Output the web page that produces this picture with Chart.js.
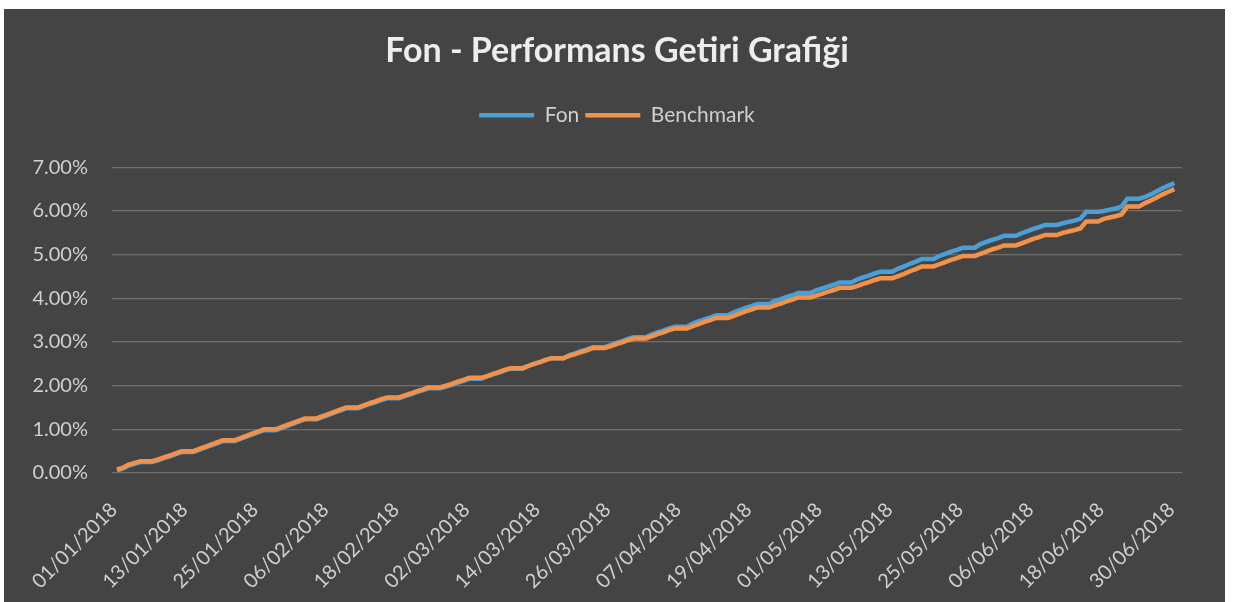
<!DOCTYPE html>
<html>
<head>
<meta charset="utf-8">
<script src="https://cdn.jsdelivr.net/npm/chart.js@4.4.1/dist/chart.umd.min.js"></script>
<style>
html,body{margin:0;padding:0;background:#ffffff;}
canvas{display:block;}
</style>
</head>
<body>
<canvas id="c" width="1234" height="602"></canvas>
<script>
const dates = [
'01/01/2018','02/01/2018','03/01/2018','04/01/2018','05/01/2018','06/01/2018','07/01/2018','08/01/2018','09/01/2018','10/01/2018','11/01/2018','12/01/2018','13/01/2018','14/01/2018','15/01/2018','16/01/2018','17/01/2018','18/01/2018','19/01/2018','20/01/2018','21/01/2018','22/01/2018','23/01/2018','24/01/2018','25/01/2018','26/01/2018','27/01/2018','28/01/2018','29/01/2018','30/01/2018','31/01/2018',
'01/02/2018','02/02/2018','03/02/2018','04/02/2018','05/02/2018','06/02/2018','07/02/2018','08/02/2018','09/02/2018','10/02/2018','11/02/2018','12/02/2018','13/02/2018','14/02/2018','15/02/2018','16/02/2018','17/02/2018','18/02/2018','19/02/2018','20/02/2018','21/02/2018','22/02/2018','23/02/2018','24/02/2018','25/02/2018','26/02/2018','27/02/2018','28/02/2018',
'01/03/2018','02/03/2018','03/03/2018','04/03/2018','05/03/2018','06/03/2018','07/03/2018','08/03/2018','09/03/2018','10/03/2018','11/03/2018','12/03/2018','13/03/2018','14/03/2018','15/03/2018','16/03/2018','17/03/2018','18/03/2018','19/03/2018','20/03/2018','21/03/2018','22/03/2018','23/03/2018','24/03/2018','25/03/2018','26/03/2018','27/03/2018','28/03/2018','29/03/2018','30/03/2018','31/03/2018',
'01/04/2018','02/04/2018','03/04/2018','04/04/2018','05/04/2018','06/04/2018','07/04/2018','08/04/2018','09/04/2018','10/04/2018','11/04/2018','12/04/2018','13/04/2018','14/04/2018','15/04/2018','16/04/2018','17/04/2018','18/04/2018','19/04/2018','20/04/2018','21/04/2018','22/04/2018','23/04/2018','24/04/2018','25/04/2018','26/04/2018','27/04/2018','28/04/2018','29/04/2018','30/04/2018',
'01/05/2018','02/05/2018','03/05/2018','04/05/2018','05/05/2018','06/05/2018','07/05/2018','08/05/2018','09/05/2018','10/05/2018','11/05/2018','12/05/2018','13/05/2018','14/05/2018','15/05/2018','16/05/2018','17/05/2018','18/05/2018','19/05/2018','20/05/2018','21/05/2018','22/05/2018','23/05/2018','24/05/2018','25/05/2018','26/05/2018','27/05/2018','28/05/2018','29/05/2018','30/05/2018','31/05/2018',
'01/06/2018','02/06/2018','03/06/2018','04/06/2018','05/06/2018','06/06/2018','07/06/2018','08/06/2018','09/06/2018','10/06/2018','11/06/2018','12/06/2018','13/06/2018','14/06/2018','15/06/2018','16/06/2018','17/06/2018','18/06/2018','19/06/2018','20/06/2018','21/06/2018','22/06/2018','23/06/2018','24/06/2018','25/06/2018','26/06/2018','27/06/2018','28/06/2018','29/06/2018','30/06/2018'
];

const tickLabels = ['01/01/2018','13/01/2018','25/01/2018','06/02/2018','18/02/2018','02/03/2018','14/03/2018','26/03/2018','07/04/2018','19/04/2018','01/05/2018','13/05/2018','25/05/2018','06/06/2018','18/06/2018','30/06/2018'];

const yTicks = [0, 1, 2, 3, 4, 5, 6, 7];

// Fon (%), one row per week (Mon..Sun)
const fon = [
0.06,0.10,0.17,0.21,0.25,0.25,0.25,
0.29,0.34,0.38,0.43,0.48,0.48,0.48,
0.53,0.58,0.63,0.68,0.73,0.73,0.73,
0.78,0.83,0.88,0.93,0.98,0.98,0.98,
1.03,1.08,1.13,1.18,1.23,1.23,1.23,
1.28,1.33,1.38,1.43,1.48,1.48,1.48,
1.53,1.58,1.62,1.67,1.71,1.71,1.71,
1.76,1.80,1.85,1.89,1.94,1.94,1.94,
1.98,2.02,2.07,2.11,2.16,2.16,2.16,
2.21,2.26,2.30,2.35,2.39,2.39,2.39,
2.45,2.50,2.54,2.59,2.63,2.63,2.63,
2.70,2.74,2.79,2.83,2.88,2.88,2.88,
2.93,2.98,3.02,3.07,3.11,3.11,3.11,
3.17,3.22,3.26,3.31,3.35,3.35,3.35,
3.42,3.47,3.52,3.56,3.61,3.61,3.61,
3.68,3.73,3.78,3.82,3.87,3.87,3.87,
3.94,3.98,4.03,4.07,4.12,4.12,4.12,
4.18,4.22,4.27,4.31,4.36,4.36,4.36,
4.43,4.48,4.52,4.57,4.61,4.61,4.61,
4.68,4.73,4.79,4.84,4.90,4.90,4.90,
4.97,5.02,5.07,5.11,5.16,5.16,5.16,
5.24,5.29,5.34,5.38,5.43,5.43,5.43,
5.49,5.54,5.59,5.63,5.68,5.68,5.68,
5.72,5.75,5.78,5.82,5.98,5.98,5.98,
6.00,6.03,6.06,6.10,6.28,6.28,6.28,
6.32,6.38,6.45,6.52,6.58,6.64
];

// Benchmark (%), one row per week (Mon..Sun)
const benchmark = [
0.08,0.12,0.19,0.23,0.27,0.27,0.27,
0.31,0.36,0.40,0.45,0.50,0.50,0.50,
0.55,0.60,0.65,0.70,0.75,0.75,0.75,
0.80,0.85,0.90,0.95,1.00,1.00,1.00,
1.05,1.10,1.15,1.20,1.25,1.25,1.25,
1.30,1.35,1.40,1.45,1.50,1.50,1.50,
1.55,1.60,1.64,1.69,1.73,1.73,1.73,
1.78,1.82,1.87,1.91,1.96,1.96,1.96,
2.00,2.04,2.09,2.13,2.18,2.18,2.18,
2.22,2.27,2.31,2.36,2.40,2.40,2.40,
2.45,2.50,2.54,2.59,2.63,2.63,2.63,
2.68,2.72,2.77,2.81,2.86,2.86,2.86,
2.90,2.95,2.99,3.04,3.08,3.08,3.08,
3.13,3.18,3.22,3.27,3.31,3.31,3.31,
3.36,3.41,3.46,3.50,3.55,3.55,3.55,
3.60,3.65,3.70,3.74,3.79,3.79,3.79,
3.84,3.88,3.93,3.97,4.02,4.02,4.02,
4.06,4.10,4.15,4.19,4.24,4.24,4.24,
4.28,4.33,4.37,4.42,4.46,4.46,4.46,
4.51,4.56,4.62,4.67,4.73,4.73,4.73,
4.78,4.83,4.88,4.92,4.97,4.97,4.97,
5.02,5.07,5.12,5.16,5.21,5.21,5.21,
5.26,5.31,5.36,5.40,5.45,5.45,5.45,
5.50,5.53,5.56,5.60,5.76,5.76,5.76,
5.82,5.85,5.88,5.92,6.10,6.10,6.10,
6.18,6.24,6.31,6.38,6.44,6.50
];

const BLUE = '#4c9fd4';
const ORANGE = '#f2924a';
const TEXT = '#cfcfcf';
const FONT = 'Lato';

const bgPlugin = {
  id: 'bg',
  beforeDraw(chart) {
    const c = chart.ctx;
    c.save();
    c.fillStyle = '#ffffff';
    c.fillRect(0, 0, chart.width, chart.height);
    c.fillStyle = '#444444';
    c.fillRect(4, 9, 1221, 593);
    c.restore();
  }
};

const legendGapPlugin = {
  id: 'legendGap',
  afterInit(chart) {
    const lg = chart.legend;
    if (!lg || lg._gapPatched) return;
    const orig = lg.fit;
    lg.fit = function () { orig.call(this); this.height += 31.5; };
    lg._gapPatched = true;
  }
};

new Chart(document.getElementById('c'), {
  type: 'line',
  data: {
    datasets: [
      { label: 'Fon', data: fon.map((v, i) => ({ x: i, y: v })), borderColor: BLUE, backgroundColor: BLUE,
        borderWidth: 4.5, pointRadius: 0, tension: 0, order: 1 },
      { label: 'Benchmark', data: benchmark.map((v, i) => ({ x: i, y: v })), borderColor: ORANGE, backgroundColor: ORANGE,
        borderWidth: 4.5, pointRadius: 0, tension: 0, order: 0 }
    ]
  },
  options: {
    responsive: false,
    animation: false,
    devicePixelRatio: 1,
    layout: { padding: { top: 0, left: 0, right: 0, bottom: 0 } },
    plugins: {
      title: {
        display: true, text: 'Fon - Performans Getiri Grafiği', color: '#ededed',
        font: { family: FONT, size: 34, weight: 'bold' }, padding: { top: 31, bottom: 27 }
      },
      legend: {
        display: true, position: 'top',
        labels: { color: TEXT, font: { family: FONT, size: 21 }, usePointStyle: true, pointStyle: 'line',
                  pointStyleWidth: 55, padding: 6,
                  sort: (a, b) => a.datasetIndex - b.datasetIndex }
      },
      tooltip: { enabled: false }
    },
    scales: {
      x: {
        type: 'linear', min: -0.85, max: 181.3,
        grid: { display: false }, border: { display: false },
        afterBuildTicks: s => { s.ticks = tickLabels.map(l => ({ value: dates.indexOf(l) })); },
        afterFit: s => { s.height = 129; },
        ticks: { autoSkip: false, minRotation: 45, maxRotation: 45, padding: 17, labelOffset: -3,
                 color: TEXT, font: { family: FONT, size: 20 }, callback: v => dates[v] }
      },
      y: {
        min: 0, max: 7,
        afterBuildTicks: s => { s.ticks = yTicks.map(v => ({ value: v })); },
        afterFit: s => { s.width = 112; },
        grid: { color: '#6f6f6f', lineWidth: 1.2, drawTicks: false }, border: { display: false },
        ticks: { padding: 24, color: TEXT, font: { family: FONT, size: 20 }, callback: v => v.toFixed(2) + '%' }
      },
      rightSpace: {
        type: 'linear', position: 'right', display: true,
        grid: { display: false, drawTicks: false }, border: { display: false },
        ticks: { display: false },
        afterFit: s => { s.width = 52; }
      }
    }
  },
  plugins: [bgPlugin, legendGapPlugin]
});
</script>
</body>
</html>
